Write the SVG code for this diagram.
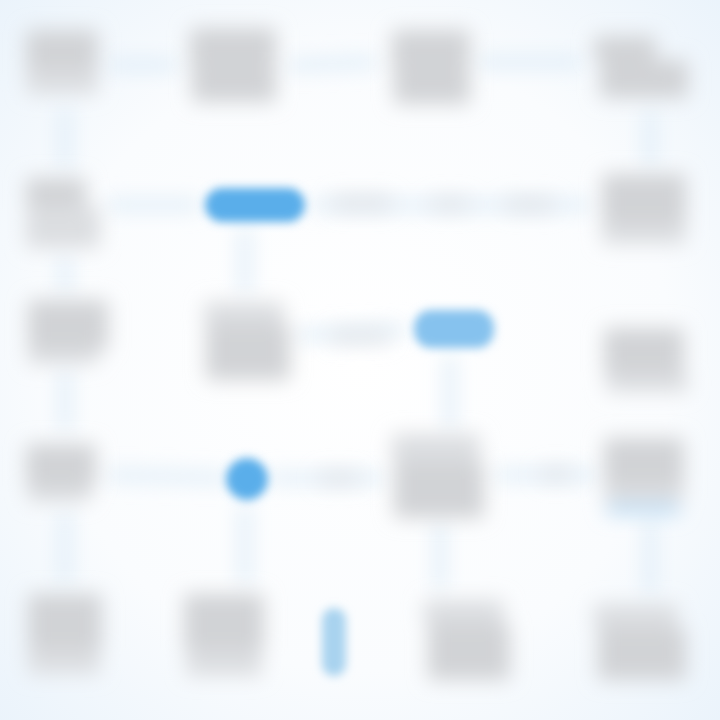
<svg xmlns="http://www.w3.org/2000/svg" width="720" height="720" viewBox="0 0 720 720">
<defs>
<filter id="blur" x="-50%" y="-50%" width="200%" height="200%"><feGaussianBlur stdDeviation="10"/></filter>
<filter id="blur2" filterUnits="userSpaceOnUse" x="0" y="0" width="720" height="720"><feGaussianBlur stdDeviation="5"/></filter>
<radialGradient id="bg" cx="50%" cy="50%" r="72%">
<stop offset="0" stop-color="#ffffff"/>
<stop offset="0.6" stop-color="#fafcfe"/>
<stop offset="1" stop-color="#eaf3fb"/>
</radialGradient>
<style>
.blk{fill:#d1d3d6}
.blk2{fill:#dcdee1}
.con{stroke:#dcebf7;stroke-width:10;fill:none;stroke-linecap:round}
.lbl{fill:#e2e5e9}
.pill{fill:#5aaeea}
.pill2{fill:#86c2ee}
</style>
</defs>
<rect width="720" height="720" fill="url(#bg)"/>
<g id="connectors" filter="url(#blur)">
<line class="con" x1="112" y1="65" x2="172" y2="65"/>
<line class="con" x1="292" y1="65" x2="372" y2="62"/>
<line class="con" x1="482" y1="62" x2="578" y2="62"/>
<line class="con" x1="65" y1="112" x2="65" y2="165"/>
<line class="con" x1="650" y1="115" x2="650" y2="162"/>
<line class="con" x1="112" y1="205" x2="195" y2="205"/>
<line class="con" x1="315" y1="205" x2="585" y2="205"/>
<line class="con" x1="245" y1="232" x2="245" y2="290"/>
<line class="con" x1="65" y1="258" x2="65" y2="290"/>
<line class="con" x1="300" y1="335" x2="402" y2="330"/>
<line class="con" x1="450" y1="360" x2="450" y2="425"/>
<line class="con" x1="65" y1="372" x2="65" y2="428"/>
<line class="con" x1="112" y1="475" x2="222" y2="478"/>
<line class="con" x1="272" y1="478" x2="380" y2="478"/>
<line class="con" x1="500" y1="475" x2="592" y2="475"/>
<line class="con" x1="65" y1="515" x2="65" y2="580"/>
<line class="con" x1="440" y1="525" x2="440" y2="585"/>
<line class="con" x1="245" y1="510" x2="245" y2="580"/>
<line class="con" x1="650" y1="525" x2="650" y2="590"/>
</g>
<g id="labels" filter="url(#blur)">
<rect class="lbl" x="332" y="196" width="60" height="14" rx="6"/>
<rect class="lbl" x="430" y="198" width="40" height="12" rx="6"/>
<rect class="lbl" x="505" y="198" width="50" height="13" rx="6"/>
<rect class="lbl" x="330" y="330" width="60" height="13" rx="6"/>
<rect class="lbl" x="318" y="472" width="42" height="12" rx="6"/>
<rect class="lbl" x="540" y="468" width="32" height="12" rx="6"/>
</g>
<g id="nodeA" filter="url(#blur)">
<rect class="blk" x="26" y="30" width="72" height="40" rx="4"/>
<rect class="blk2" x="26" y="70" width="72" height="24" rx="4"/>
</g>
<g id="nodeB" filter="url(#blur)">
<rect class="blk" x="190" y="28" width="86" height="42" rx="4"/>
<rect class="blk" x="192" y="70" width="84" height="32" rx="4"/>
</g>
<g id="nodeC" filter="url(#blur)">
<rect class="blk" x="392" y="30" width="78" height="44" rx="4"/>
<rect class="blk" x="394" y="74" width="76" height="30" rx="4"/>
</g>
<g id="nodeD" filter="url(#blur)">
<rect class="blk" x="594" y="36" width="62" height="24" rx="4"/>
<rect class="blk" x="600" y="60" width="88" height="38" rx="4"/>
</g>
<g id="nodeE" filter="url(#blur)">
<rect class="blk" x="26" y="178" width="60" height="28" rx="4"/>
<rect class="blk2" x="26" y="206" width="74" height="42" rx="4"/>
</g>
<g id="nodeF" filter="url(#blur)">
<rect class="blk" x="602" y="174" width="84" height="50" rx="4"/>
<rect class="blk2" x="602" y="224" width="84" height="20" rx="4"/>
</g>
<g id="nodeG" filter="url(#blur)">
<rect class="blk" x="28" y="300" width="80" height="50" rx="4"/>
<rect class="blk2" x="28" y="350" width="70" height="14" rx="4"/>
</g>
<g id="nodeH" filter="url(#blur)">
<rect class="blk2" x="204" y="302" width="80" height="22" rx="4"/>
<rect class="blk" x="206" y="324" width="84" height="56" rx="4"/>
</g>
<g id="nodeI" filter="url(#blur)">
<rect class="blk" x="604" y="328" width="80" height="46" rx="4"/>
<rect class="blk2" x="606" y="374" width="82" height="18" rx="4"/>
</g>
<g id="nodeJ" filter="url(#blur)">
<rect class="blk" x="26" y="444" width="70" height="44" rx="4"/>
<rect class="blk2" x="28" y="488" width="62" height="14" rx="4"/>
</g>
<g id="nodeK" filter="url(#blur)">
<rect class="blk2" x="392" y="434" width="88" height="28" rx="4"/>
<rect class="blk" x="394" y="462" width="90" height="56" rx="4"/>
</g>
<g id="nodeL" filter="url(#blur)">
<rect class="blk" x="604" y="438" width="80" height="48" rx="4"/>
<rect class="blk2" x="604" y="486" width="80" height="16" rx="4"/>
<rect fill="#b4d8f3" x="606" y="504" width="74" height="10" rx="4"/>
</g>
<g id="nodeM" filter="url(#blur)">
<rect class="blk" x="28" y="594" width="74" height="56" rx="4"/>
<rect class="blk2" x="28" y="650" width="72" height="24" rx="4"/>
</g>
<g id="nodeN" filter="url(#blur)">
<rect class="blk" x="184" y="594" width="80" height="56" rx="4"/>
<rect class="blk2" x="186" y="650" width="76" height="26" rx="4"/>
</g>
<g id="nodeO" filter="url(#blur)">
<rect class="blk2" x="424" y="600" width="80" height="24" rx="4"/>
<rect class="blk" x="428" y="624" width="82" height="56" rx="4"/>
</g>
<g id="nodeP" filter="url(#blur)">
<rect class="blk2" x="594" y="604" width="84" height="24" rx="4"/>
<rect class="blk" x="598" y="628" width="88" height="52" rx="4"/>
</g>
<g id="blueShapes" filter="url(#blur2)">
<rect id="pillTop" class="pill" x="205" y="188" width="100" height="34" rx="17"/>
<rect id="pillMid" class="pill2" x="414" y="310" width="80" height="38" rx="17"/>
<rect id="dot" class="pill" x="226" y="458" width="42" height="42" rx="21"/>
<rect id="pillVert" fill="#a9d3ef" x="322" y="608" width="24" height="68" rx="12"/>
</g>
</svg>
